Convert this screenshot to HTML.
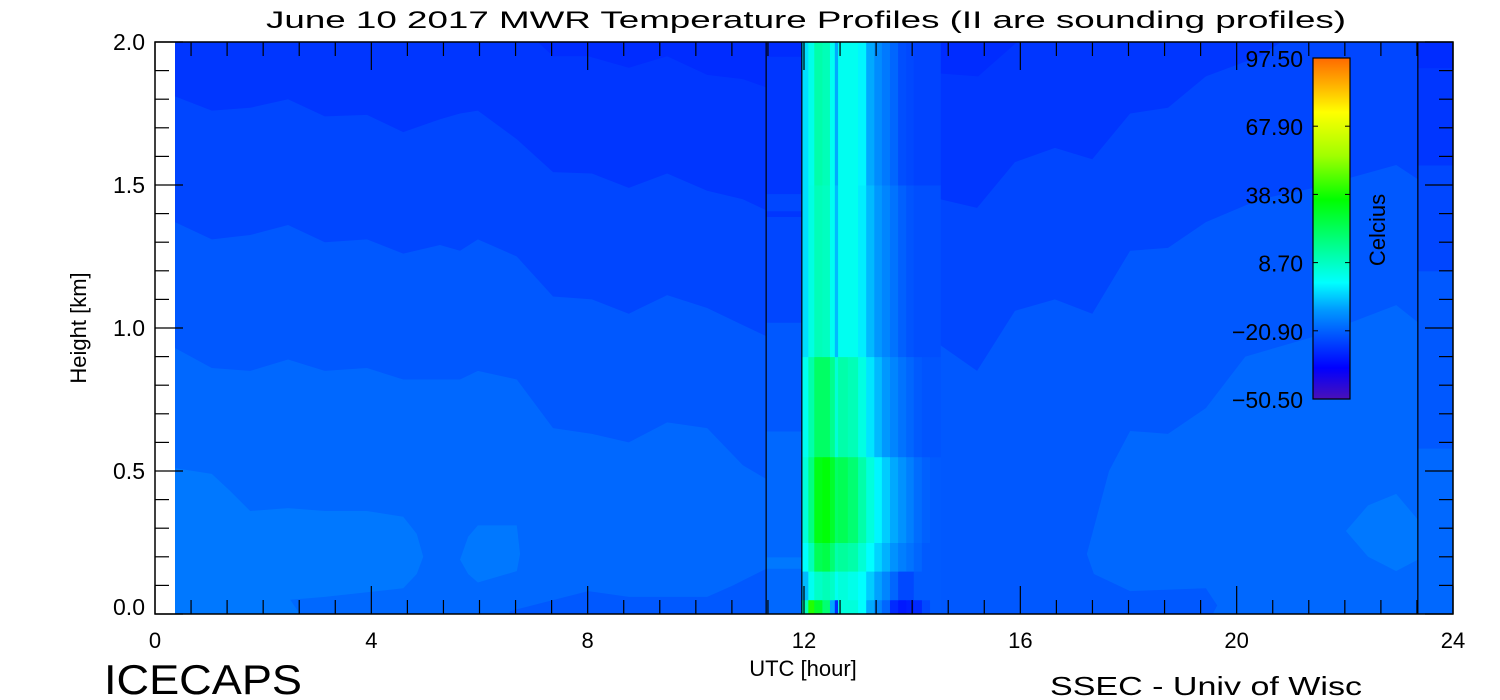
<!DOCTYPE html>
<html><head><meta charset="utf-8"><style>
html,body{margin:0;padding:0;background:#fff;width:1500px;height:700px;overflow:hidden}
svg{display:block}
text{font-family:"Liberation Sans",sans-serif;fill:#000}
</style></head><body>
<svg id="chart" width="1500" height="700" viewBox="0 0 1500 700" xmlns="http://www.w3.org/2000/svg">
<text x="806" y="28" font-size="24" text-anchor="middle" textLength="1080" lengthAdjust="spacingAndGlyphs">June 10 2017 MWR Temperature Profiles (II are sounding profiles)</text>
<g id="field"></g>
<g id="axes"></g>
<g id="cbar"></g>
<text x="803" y="676" font-size="22" text-anchor="middle">UTC [hour]</text>
<text x="0" y="0" font-size="22" text-anchor="middle" transform="translate(86,328) rotate(-90)">Height [km]</text>
<text x="104" y="694" font-size="42" textLength="198" lengthAdjust="spacingAndGlyphs">ICECAPS</text>
<text x="1050" y="695" font-size="26" textLength="312" lengthAdjust="spacingAndGlyphs">SSEC - Univ of Wisc</text>
</svg>
<script>
// ---- data ----
const levelColors = ["#002cff","#0036ff","#0046ff","#0058ff","#0068ff","#0078ff"];
const xTicks = [0,4,8,12,16,20,24];
const yTicks = [0.0,0.5,1.0,1.5,2.0];
const cbarLabels = [97.5,67.9,38.3,8.7,-20.9,-50.5];
const soundingTimes = [11.30,11.96,23.35];
// left-segment contour boundaries
const leftHours = [0.37,1.05,1.76,2.46,3.14,3.92,4.59,5.27,5.64,5.97,6.69,7.36,8.08,8.76,9.47,10.21,10.87,11.32];
const bndA = [1.81,1.76,1.77,1.80,1.74,1.745,1.685,1.73,1.75,1.76,1.66,1.545,1.54,1.49,1.54,1.48,1.45,1.41];
const bndB = [1.37,1.31,1.325,1.36,1.30,1.31,1.26,1.29,1.27,1.31,1.25,1.11,1.10,1.05,1.115,1.07,1.01,0.97];
const bndC = [0.93,0.86,0.85,0.89,0.85,0.86,0.82,0.82,0.82,0.85,0.82,0.65,0.63,0.60,0.67,0.65,0.52,0.47];
const topPatchHours = [7.08,7.36,8.01,8.76,9.47,10.21,10.87,11.32];
const topPatchKm = [2.0,1.95,1.95,1.91,1.95,1.885,1.87,1.84];
const botLeftHours = [6.56,8.01,8.76,10.21,10.69,11.32];
const botLeftKm = [0.01,0.08,0.06,0.06,0.10,0.16];
const blob1Hours = [0.37,1.05,1.39,1.76,2.46,3.14,3.92,4.59,4.84,4.96,4.84,4.59,3.14,2.50,2.68,0.37];
const blob1Km = [0.51,0.49,0.43,0.36,0.37,0.36,0.36,0.34,0.28,0.20,0.14,0.09,0.06,0.05,0,0];
const blob2Hours = [5.97,6.69,6.75,6.69,5.97,5.79,5.64,5.79];
const blob2Km = [0.31,0.31,0.21,0.15,0.11,0.14,0.19,0.27];
// sounding strip bands
const stripEdges = [0,0.16,0.20,0.64,1.02,1.39,1.41,1.47,1.95,2.0];
const stripLevels = [4,5,4,3,2,1,2,1,0];
// right segment
const rL3Hours = [14.52,19.56,19.64,19.43,18.03,17.36,17.23,17.64,18.03,18.73,19.43,20.16,21.43,22.95,23.35,23.35,14.52];
const rL3Km = [0,0,0.03,0.09,0.08,0.14,0.21,0.50,0.64,0.63,0.72,0.90,0.97,1.08,1.02,2.0,2.0];
const line2Hours = [13.78,14.20,14.52,15.20,15.90,16.64,17.33,18.03,18.73,19.43,20.43,21.43,22.95,23.35,23.35,13.78];
const line2Km = [1.10,1.045,0.94,0.85,1.06,1.10,1.05,1.27,1.28,1.37,1.45,1.49,1.57,1.52,2.0,2.0];
const line1Hours = [13.78,14.20,14.52,15.20,15.90,16.64,17.33,18.03,18.73,19.43,20.43,20.82,13.78];
const line1Km = [1.30,1.34,1.45,1.42,1.58,1.63,1.59,1.75,1.77,1.88,1.95,2.0,2.0];
const rPatchHours = [13.78,13.78,14.52,15.22,15.94];
const rPatchKm = [2.0,1.89,1.89,1.88,2.0];
const blob3Hours = [22.02,22.43,22.95,23.35,23.35,22.95,22.43];
const blob3Km = [0.29,0.38,0.42,0.33,0.19,0.15,0.20];
const edgeEdges = [0,0.58,1.20,1.57,1.91,2.0];
const edgeLevels = [4,3,2,1,0];
// warm column (heatmap cells, temperatures in C)
const colHours = [11.96,12.08,12.19,12.34,12.48,12.57,12.63,12.81,13.0,13.15,13.30,13.44,13.59,13.74,13.89,14.03,14.18,14.33,14.52];
const colKm = [0,0.05,0.15,0.25,0.55,0.9,1.5,2.0];
const colTemps = [
 [10,40,30,20,-10,-30,5,5,0,-10,-15,-20,-30,-33,-32,-30,-25,-22],
 [-8,2,8,10,8,2,5,3,0,-6,-11,-15,-20,-25,-25,-22,-22,-22],
 [0,10,24,26,20,12,14,12,6,0,-5,-9,-13,-16,-18,-20,-22,-22],
 [5,18,33,35,30,22,24,20,12,5,-1,-6,-10,-13,-16,-19,-21,-22],
 [2,12,22,22,16,6,12,10,4,-3,-8,-12,-15,-18,-20,-22,-23,-23],
 [-4,4,10,9,2,-8,2,2,-2,-8,-12,-15,-18,-21,-23,-24,-24,-24],
 [-4,3,12,10,2,-10,2,2,-1,-10,-14,-17,-20,-24,-25,-26,-26,-26]
];
const cmapT = [-50.5,-37,-28,-21,-12,0,18,36,55,74,86,97.5];
const cmapC = ["#4a10b8","#0000ff","#0036ff","#0060ff","#0098ff","#00ffff","#00ff80","#00ff00","#a0ff00","#ffff00","#ffb000","#ff6a00"];

// ---- scales ----
const X0=155, X1=1453, Y0=614, Y1=42;
const X = h => X0 + h*(X1-X0)/24;
const Y = k => Y0 - k*(Y0-Y1)/2;
const NS="http://www.w3.org/2000/svg";
function hex(c){return [1,3,5].map(i=>parseInt(c.substr(i,2),16));}
function cmap(t){
  if(t<=cmapT[0]) return cmapC[0];
  for(let i=1;i<cmapT.length;i++){ if(t<=cmapT[i]){const f=(t-cmapT[i-1])/(cmapT[i]-cmapT[i-1]);const a=hex(cmapC[i-1]),b=hex(cmapC[i]);return "rgb("+a.map((v,j)=>Math.round(v+(b[j]-v)*f)).join(",")+")";} }
  return cmapC[cmapC.length-1];
}
function mk(tag,attrs,parent){const e=document.createElementNS(NS,tag);for(const k in attrs)e.setAttribute(k,attrs[k]);parent.appendChild(e);return e;}
const field=document.getElementById('field');
function poly(hs,ks,lvl,name){
  const p=mk('polygon',{points:hs.map((h,i)=>X(h)+","+Y(ks[i])).join(" "),fill:levelColors[lvl]},field);
  
  
}
function above(hs,ks,lvl,name){poly(hs.concat([hs[hs.length-1],hs[0]]),ks.concat([2,2]),lvl,name);}
// left segment
const lb=mk('rect',{x:X(0.37),y:Y(2),width:X(11.30)-X(0.37),height:Y(0)-Y(2),fill:levelColors[4]},field);


above(leftHours,bndC,3,'contour-band-l3');
above(leftHours,bndB,2,'contour-band-l2');
above(leftHours,bndA,1,'contour-band-l1');
above(topPatchHours,topPatchKm,0,'contour-band-l0');
poly(botLeftHours.concat([11.32,6.56]),botLeftKm.concat([0,0]),3,'contour-bottom-l3');
poly(blob1Hours,blob1Km,5,'contour-blob-1');
poly(blob2Hours,blob2Km,5,'contour-blob-2');
// sounding strip
for(let i=0;i<stripLevels.length;i++){
  const r=mk('rect',{x:X(11.30),y:Y(stripEdges[i+1]),width:X(11.96)-X(11.30),height:Y(stripEdges[i])-Y(stripEdges[i+1])+0.5,fill:levelColors[stripLevels[i]]},field);
  
  
}
// right segment
const rb=mk('rect',{x:X(13.7),y:Y(2),width:X(23.35)-X(13.7),height:Y(0)-Y(2),fill:levelColors[4]},field);


poly(rL3Hours,rL3Km,3,'contour-right-l3');
poly(line2Hours,line2Km,2,'contour-right-l2');
poly(line1Hours,line1Km,1,'contour-right-l1');
poly(rPatchHours,rPatchKm,0,'contour-right-l0');
poly(blob3Hours,blob3Km,5,'contour-blob-3');
for(let i=0;i<edgeLevels.length;i++){
  const r=mk('rect',{x:X(23.35),y:Y(edgeEdges[i+1]),width:X(24)-X(23.35),height:Y(edgeEdges[i])-Y(edgeEdges[i+1])+0.5,fill:levelColors[edgeLevels[i]]},field);
  
  
}
// warm column cells
for(let r=0;r<colTemps.length;r++){
  for(let c=0;c<colTemps[r].length;c++){
    const cell=mk('rect',{x:X(colHours[c]),y:Y(colKm[r+1]),width:X(colHours[c+1])-X(colHours[c])+0.5,height:Y(colKm[r])-Y(colKm[r+1])+0.5,fill:cmap(colTemps[r][c])},field);
    
    
  }
}
// sounding lines
soundingTimes.forEach(t=>{
  const l=mk('line',{x1:X(t),x2:X(t),y1:Y(2),y2:Y(0),stroke:"#000","stroke-width":1.2},field);
  
  
});
// axes
const ax=document.getElementById('axes');
const fr=mk('rect',{x:X0,y:Y1,width:X1-X0,height:Y0-Y1,fill:"none",stroke:"#000","stroke-width":1.5},ax);


for(let i=0;i<=36;i++){
  const h=i*2/3, major=(i%6===0), L=major?28:14;
  mk('line',{x1:X(h),x2:X(h),y1:Y0,y2:Y0-L,stroke:"#000","stroke-width":1.2},ax);
  mk('line',{x1:X(h),x2:X(h),y1:Y1,y2:Y1+L,stroke:"#000","stroke-width":1.2},ax);
}
for(let i=0;i<=20;i++){
  const k=i*0.1, major=(i%5===0), L=major?28:14;
  mk('line',{x1:X0,x2:X0+L,y1:Y(k),y2:Y(k),stroke:"#000","stroke-width":1.2},ax);
  mk('line',{x1:X1,x2:X1-L,y1:Y(k),y2:Y(k),stroke:"#000","stroke-width":1.2},ax);
}
xTicks.forEach(v=>{
  const t=mk('text',{x:X(v),y:648,"font-size":22,"text-anchor":"middle"},ax);
  t.textContent=String(v);
  
  
});
yTicks.forEach(v=>{
  const t=mk('text',{x:145,y:Math.min(Y(v)+8,615),"font-size":23,"text-anchor":"end"},ax);
  t.textContent=v.toFixed(1);
  
  
});
// colorbar
const cb=document.getElementById('cbar');
const CB={x:1313,w:37,top:58,bot:399};
const CY=t=>CB.top+(97.5-t)*(CB.bot-CB.top)/148;
const defs=mk('defs',{},cb);
const gr=mk('linearGradient',{id:"cg",x1:0,y1:1,x2:0,y2:0},defs);
cmapT.forEach((t,i)=>mk('stop',{offset:((t+50.5)/148).toFixed(4),"stop-color":cmapC[i]},gr));
const bar=mk('rect',{x:CB.x,y:CB.top,width:CB.w,height:CB.bot-CB.top,fill:"url(#cg)",stroke:"#000","stroke-width":1.2},cb);


cbarLabels.forEach(v=>{
  mk('line',{x1:CB.x,x2:CB.x+5,y1:CY(v),y2:CY(v),stroke:"#000"},cb);
  mk('line',{x1:CB.x+CB.w,x2:CB.x+CB.w-5,y1:CY(v),y2:CY(v),stroke:"#000"},cb);
  const t=mk('text',{x:1303,y:CY(v)+9,"font-size":23,"text-anchor":"end"},cb);
  t.textContent=v.toFixed(2).replace('-','\u2212');
  
  
});
const ct=mk('text',{x:0,y:0,"font-size":22,"text-anchor":"middle",transform:"translate(1385,230) rotate(-90)"},cb);
ct.textContent="Celcius";


</script>
</body></html>
